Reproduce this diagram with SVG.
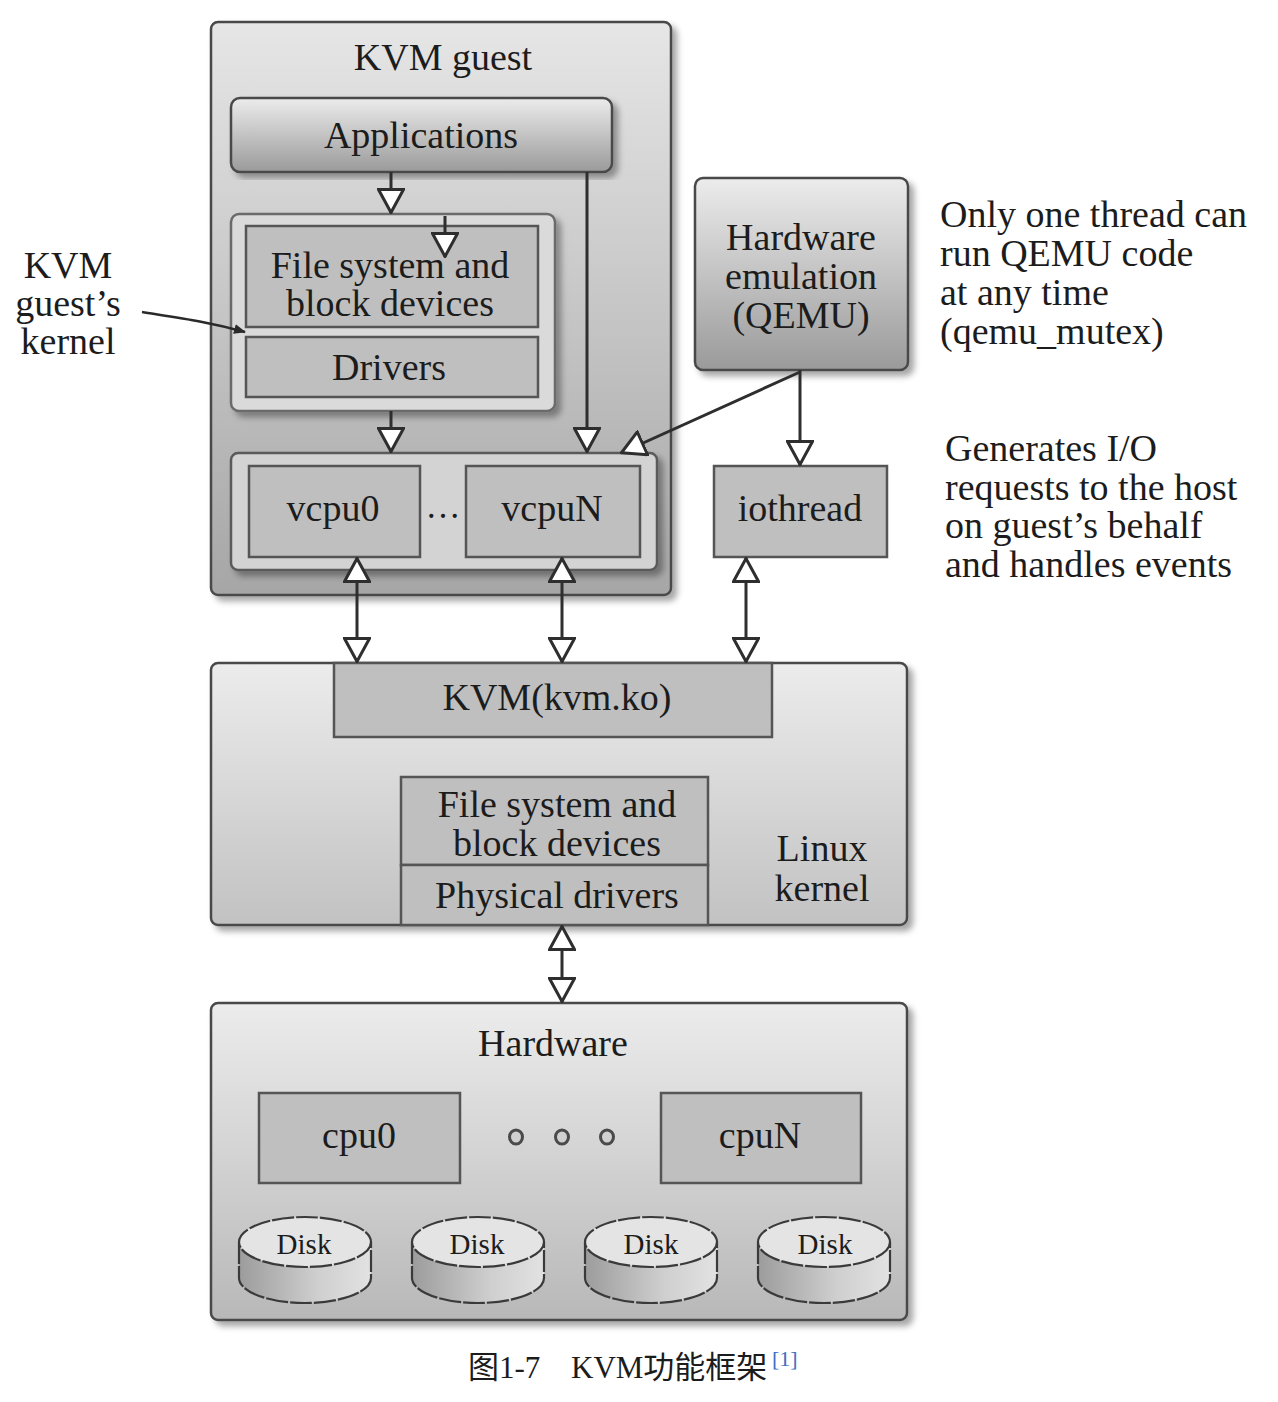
<svg xmlns="http://www.w3.org/2000/svg" width="1278" height="1402" viewBox="0 0 1278 1402">
<defs>
  <linearGradient id="gBig" x1="0" y1="0" x2="0" y2="1">
    <stop offset="0" stop-color="#e6e6e6"/>
    <stop offset="1" stop-color="#a6a6a6"/>
  </linearGradient>
  <linearGradient id="gHead" x1="0" y1="0" x2="0" y2="1">
    <stop offset="0" stop-color="#ececec"/>
    <stop offset="1" stop-color="#9a9a9a"/>
  </linearGradient>
  <linearGradient id="gKern" x1="0" y1="0" x2="0" y2="1">
    <stop offset="0" stop-color="#ececec"/>
    <stop offset="1" stop-color="#c2c2c2"/>
  </linearGradient>
  <linearGradient id="gHw" x1="0" y1="0" x2="0" y2="1">
    <stop offset="0" stop-color="#ececec"/>
    <stop offset="1" stop-color="#b8b8b8"/>
  </linearGradient>
  <linearGradient id="gDisk" x1="0" y1="0" x2="1" y2="0">
    <stop offset="0" stop-color="#9c9c9c"/>
    <stop offset="0.6" stop-color="#cfcfcf"/>
    <stop offset="1" stop-color="#e2e2e2"/>
  </linearGradient>
  <filter id="sh" x="-5%" y="-5%" width="115%" height="115%">
    <feDropShadow dx="5" dy="5" stdDeviation="3" flood-color="#000" flood-opacity="0.35"/>
  </filter>
  <marker id="tri" viewBox="0 0 26 28" refX="25" refY="14" markerWidth="26" markerHeight="28" markerUnits="userSpaceOnUse" orient="auto-start-reverse">
    <path d="M1.5,1.5 L24.5,14 L1.5,26.5 Z" fill="#ffffff" stroke="#2e2e2e" stroke-width="3" stroke-linejoin="miter"/>
  </marker>
  <marker id="small" viewBox="0 0 12 10" refX="11" refY="5" markerWidth="12" markerHeight="10" markerUnits="userSpaceOnUse" orient="auto">
    <path d="M0,0 L12,5 L0,10 Z" fill="#2a2a2a"/>
  </marker>
</defs>
<style>
  text { font-family: "Liberation Serif", "Times New Roman", serif; fill: #1c1c1c; }
  .t36 { font-size: 38px; }
  .t34 { font-size: 35px; }
  .disk { font-size: 29px; }
  .mid { text-anchor: middle; }
  .box { stroke: #4a4a4a; stroke-width: 2.5; }
  .flat { fill: #bfbfbf; stroke: #555555; stroke-width: 2.5; }
  .conn { fill: none; stroke: #2e2e2e; stroke-width: 3; }
  .dsk { fill: url(#gDisk); stroke: #3a3a3a; stroke-width: 2.2; stroke-dasharray: 22 2; }
  .dsktop { fill: #e4e4e4; stroke: #3a3a3a; stroke-width: 2.2; stroke-dasharray: 22 2; }
</style>
<rect width="1278" height="1402" fill="#ffffff"/>

<g id="kvm-guest">
  <rect x="211" y="22" width="460" height="573" rx="7" class="box" fill="url(#gBig)" filter="url(#sh)"/>
  <text x="443" y="70" class="t36 mid">KVM guest</text>
</g>

<g id="applications">
  <rect x="231" y="98" width="381" height="74" rx="9" class="box" fill="url(#gHead)" filter="url(#sh)"/>
  <text x="421" y="148" class="t36 mid">Applications</text>
</g>

<g id="guest-kernel">
  <rect x="231" y="214" width="324" height="197" rx="8" fill="#dadada" stroke="#6a6a6a" stroke-width="2.5" filter="url(#sh)"/>
  <rect x="246" y="226" width="292" height="101" class="flat"/>
  <text x="390" y="278" class="t36 mid">File system and</text>
  <text x="390" y="316" class="t36 mid">block devices</text>
  <rect x="246" y="337" width="292" height="60" class="flat"/>
  <text x="389" y="380" class="t36 mid">Drivers</text>
</g>

<g id="vcpus">
  <rect x="231" y="453" width="426" height="117" rx="7" fill="#d3d3d3" stroke="#5a5a5a" stroke-width="2.5" filter="url(#sh)"/>
  <rect x="249" y="466" width="171" height="91" class="flat"/>
  <text x="333" y="521" class="t36 mid">vcpu0</text>
  <text x="443" y="518" class="t34 mid">…</text>
  <rect x="466" y="466" width="174" height="91" class="flat"/>
  <text x="552" y="521" class="t36 mid">vcpuN</text>
</g>

<g id="qemu">
  <rect x="695" y="178" width="213" height="192" rx="8" class="box" fill="url(#gHead)" filter="url(#sh)"/>
  <text x="801" y="250" class="t36 mid">Hardware</text>
  <text x="801" y="289" class="t36 mid">emulation</text>
  <text x="801" y="328" class="t36 mid">(QEMU)</text>
</g>

<g id="iothread">
  <rect x="714" y="466" width="173" height="91" class="flat"/>
  <text x="800" y="521" class="t36 mid">iothread</text>
</g>

<g id="linux-kernel">
  <rect x="211" y="663" width="696" height="262" rx="7" class="box" fill="url(#gKern)" filter="url(#sh)"/>
  <rect x="334" y="663" width="438" height="74" class="flat"/>
  <text x="557" y="710" class="t36 mid">KVM(kvm.ko)</text>
  <rect x="401" y="777" width="307" height="88" class="flat"/>
  <text x="557" y="817" class="t36 mid">File system and</text>
  <text x="557" y="856" class="t36 mid">block devices</text>
  <rect x="401" y="865" width="307" height="60" class="flat"/>
  <text x="557" y="908" class="t36 mid">Physical drivers</text>
  <text x="822" y="861" class="t36 mid">Linux</text>
  <text x="822" y="901" class="t36 mid">kernel</text>
</g>

<g id="hardware">
  <rect x="211" y="1003" width="696" height="317" rx="7" class="box" fill="url(#gHw)" filter="url(#sh)"/>
  <text x="553" y="1056" class="t36 mid">Hardware</text>
  <rect x="259" y="1093" width="201" height="90" class="flat"/>
  <text x="359" y="1148" class="t36 mid">cpu0</text>
  <rect x="661" y="1093" width="200" height="90" class="flat"/>
  <text x="760" y="1148" class="t36 mid">cpuN</text>
  <g fill="#d0d0d0" stroke="#4a4a4a" stroke-width="3">
    <ellipse cx="516" cy="1137" rx="6.5" ry="7"/>
    <ellipse cx="562" cy="1137" rx="6.5" ry="7"/>
    <ellipse cx="607" cy="1137" rx="6.5" ry="7"/>
  </g>
</g>

<g id="disk1">
  <path d="M239,1242 L239,1278 A66,25 0 0 0 371,1278 L371,1242" class="dsk"/>
  <ellipse cx="305" cy="1242" rx="66" ry="25" class="dsktop"/>
  <text x="304" y="1254" class="disk mid">Disk</text>
</g>
<g id="disk2">
  <path d="M412,1242 L412,1278 A66,25 0 0 0 544,1278 L544,1242" class="dsk"/>
  <ellipse cx="478" cy="1242" rx="66" ry="25" class="dsktop"/>
  <text x="477" y="1254" class="disk mid">Disk</text>
</g>
<g id="disk3">
  <path d="M585,1242 L585,1278 A66,25 0 0 0 717,1278 L717,1242" class="dsk"/>
  <ellipse cx="651" cy="1242" rx="66" ry="25" class="dsktop"/>
  <text x="651" y="1254" class="disk mid">Disk</text>
</g>
<g id="disk4">
  <path d="M758,1242 L758,1278 A66,25 0 0 0 890,1278 L890,1242" class="dsk"/>
  <ellipse cx="824" cy="1242" rx="66" ry="25" class="dsktop"/>
  <text x="825" y="1254" class="disk mid">Disk</text>
</g>

<g id="connectors">
  <path d="M391,172 L391,213" class="conn" marker-end="url(#tri)"/>
  <path d="M445,216 L445,257" class="conn" marker-end="url(#tri)"/>
  <path d="M391,411 L391,452" class="conn" marker-end="url(#tri)"/>
  <path d="M587,172 L587,452" class="conn" marker-end="url(#tri)"/>
  <path d="M800,372 L621,453" class="conn" marker-end="url(#tri)"/>
  <path d="M800,370 L800,465" class="conn" marker-end="url(#tri)"/>
  <path d="M357,558 L357,662" class="conn" marker-start="url(#tri)" marker-end="url(#tri)"/>
  <path d="M562,558 L562,662" class="conn" marker-start="url(#tri)" marker-end="url(#tri)"/>
  <path d="M746,558 L746,662" class="conn" marker-start="url(#tri)" marker-end="url(#tri)"/>
  <path d="M562,926 L562,1002" class="conn" marker-start="url(#tri)" marker-end="url(#tri)"/>
  <path d="M142,312 C180,318 210,322 245,332" fill="none" stroke="#2a2a2a" stroke-width="2.5" marker-end="url(#small)"/>
</g>

<g id="label-guest-kernel">
  <text x="68" y="278" class="t36 mid">KVM</text>
  <text x="68" y="316" class="t36 mid">guest’s</text>
  <text x="68" y="354" class="t36 mid">kernel</text>
</g>

<g id="note-qemu">
  <text x="940" y="227" class="t36">Only one thread can</text>
  <text x="940" y="266" class="t36">run QEMU code</text>
  <text x="940" y="305" class="t36">at any time</text>
  <text x="940" y="344" class="t36">(qemu_mutex)</text>
</g>

<g id="note-iothread">
  <text x="945" y="461" class="t36">Generates I/O</text>
  <text x="945" y="500" class="t36">requests to the host</text>
  <text x="945" y="538" class="t36">on guest’s behalf</text>
  <text x="945" y="577" class="t36">and handles events</text>
</g>

<g id="caption">
  <text x="468" y="1378" style="font-family:'Liberation Serif','Noto Sans CJK SC',serif;font-size:31px;">图1-7</text>
  <text x="571" y="1378" style="font-family:'Liberation Serif','Noto Sans CJK SC',serif;font-size:31px;">KVM功能框架</text>
  <text x="772" y="1366" style="font-family:'Liberation Serif',serif;font-size:22px;fill:#3a6fc4;">[1]</text>
</g>
</svg>
